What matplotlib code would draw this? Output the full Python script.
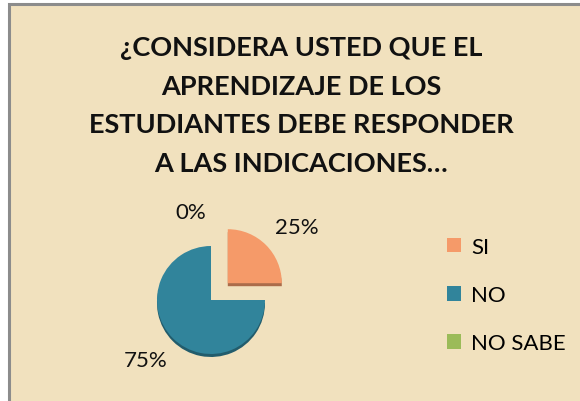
import matplotlib
matplotlib.use("Agg")
from matplotlib import pyplot as plt
from matplotlib.patches import Rectangle, Patch

plt.rcParams["font.family"] = ["Lato", "DejaVu Sans"]

# data
categories = ["SI", "NO", "NO SABE"]
values = [25, 75, 0]
colors = ["#F59A69", "#31849B", "#9BBB59"]
title_lines = ["¿CONSIDERA USTED QUE EL", "APRENDIZAJE DE LOS",
               "ESTUDIANTES DEBE RESPONDER", "A LAS INDICACIONES…"]

W, H = 580, 402
fig = plt.figure(figsize=(W / 100, H / 100), dpi=100)
fig.patch.set_facecolor("white")

# parchment chart area with grey frame (runs off right/bottom edge)
bg = Rectangle((9 / W, -0.05), 1.1, 1.05 - 5 / H, transform=fig.transFigure,
               facecolor="#F1E1BE", edgecolor="#8C8C8C", linewidth=2.2, zorder=-5)
fig.patches.append(bg)

fig.text(301 / W, 1 - 106 / H, "\n".join(title_lines), ha="center", va="center",
         fontsize=19.5, fontweight="bold", linespacing=1.72, color="#111111")

# pie axes: radius 1 == 54 px
cx, cy, r = 211, 301, 54
side = 4 * r
ax = fig.add_axes([(cx - side / 2) / W, (H - cy - side / 2) / H, side / W, side / H])

wedges, texts, autotexts = ax.pie(
    values, colors=colors, startangle=90, counterclock=False,
    explode=[0.44, 0, 0], radius=1, autopct="%1.0f%%", pctdistance=1.72,
    shadow={"ox": 0.0, "oy": -0.04, "shade": 0.3, "alpha": 1},
    textprops={"fontsize": 16, "color": "#111111"},
    wedgeprops={"linewidth": 0})

# small nudges of the percentage labels (radius units)
nudges = [(0.07, -0.18), (0.0, 0.11), (-0.37, -0.09)]
for t, (dx, dy) in zip(autotexts, nudges):
    x, y = t.get_position()
    t.set_position((x + dx, y + dy))

ax.set_xlim(-2, 2)
ax.set_ylim(-2, 2)
ax.set_aspect("equal")
ax.axis("off")

handles = [Patch(facecolor=c, edgecolor="none") for c in colors]
fig.legend(handles, categories, loc="center left", bbox_to_anchor=(427 / W, 1 - 296 / H),
           frameon=False, fontsize=16, handlelength=0.65, handleheight=0.65,
           handletextpad=0.45, labelspacing=1.27)

fig.savefig("out.png", dpi=100, facecolor=fig.get_facecolor())
